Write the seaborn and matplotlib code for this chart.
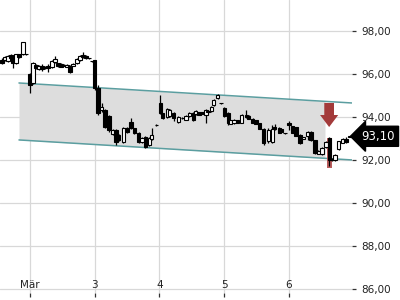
import matplotlib
matplotlib.use("Agg")
import matplotlib.pyplot as plt
import matplotlib.transforms as mtransforms
from matplotlib.patches import Polygon, Rectangle
import seaborn as sns
import pandas as pd
import numpy as np

# ---- data (time in trading days, 0 = 2 Mar) ----
t = [-0.432, -0.386, -0.340, -0.293, -0.263, -0.216, -0.170, -0.108, -0.062,
     0.000, 0.046, 0.093, 0.139, 0.185, 0.232, 0.278, 0.340, 0.386, 0.432,
     0.479, 0.525, 0.571, 0.618, 0.664, 0.726, 0.772, 0.819, 0.865, 0.911, 0.958,
     1.00, 1.05, 1.11, 1.16, 1.22, 1.28, 1.33, 1.37, 1.44, 1.50, 1.56, 1.61,
     1.68, 1.73, 1.78, 1.84, 1.88, 1.95,
     2.01, 2.05, 2.12, 2.16, 2.22, 2.29, 2.35, 2.41, 2.46, 2.52, 2.56, 2.61,
     2.66, 2.72, 2.75, 2.80, 2.84, 2.90, 2.95,
     3.00, 3.06, 3.10, 3.15, 3.21, 3.27, 3.34, 3.38, 3.44, 3.49, 3.55, 3.61,
     3.68, 3.74, 3.78, 3.85, 3.89, 3.94,
     4.00, 4.05, 4.11, 4.17, 4.22, 4.29, 4.34, 4.40, 4.45, 4.51, 4.57, 4.62,
     4.66, 4.71, 4.77, 4.83, 4.88, 4.93]
open_ = [96.65, 96.65, 96.60, 96.88, 96.84, 96.51, 96.93, 96.93, 96.93,
         96.00, 95.58, 96.42, 96.23, 96.37, 96.33, 96.37, 96.33, 96.56, 96.51,
         96.47, 96.42, 96.33, 96.37, 96.37, 96.51, 96.65, 96.88, 96.84, 96.74, 96.60,
         96.65, 95.35, 94.33, 94.33, 94.05, 93.21, 93.40, 93.16, 92.84, 93.49, 93.77, 93.49,
         93.26, 92.84, 93.07, 92.70, 92.98, 93.63,
         94.65, 94.19, 94.00, 94.05, 94.19, 93.77, 93.95, 93.86, 94.05, 94.19, 94.14, 94.23,
         94.23, 94.09, 94.28, 94.28, 94.56, 94.88, 94.65,
         94.42, 94.19, 93.67, 93.72, 93.86, 93.72, 94.09, 94.05, 93.91, 93.86, 93.72, 93.44,
         92.88, 92.84, 93.53, 93.49, 93.44, 93.26,
         93.72, 93.58, 93.53, 93.16, 92.98, 93.12, 93.30, 92.93, 92.28, 92.28, 92.60, 93.02,
         92.05, 92.00, 92.51, 92.79, 92.98, 93.08]
close = [96.51, 96.79, 96.84, 96.74, 96.51, 96.93, 96.79, 97.49, 96.92,
         95.49, 96.51, 96.28, 96.37, 96.23, 96.28, 96.28, 96.60, 96.70, 96.37,
         96.33, 96.37, 96.42, 96.09, 96.47, 96.70, 96.84, 96.79, 96.74, 96.72, 96.58,
         95.35, 94.19, 94.47, 93.53, 93.40, 93.40, 92.84, 92.93, 93.49, 93.30, 93.49, 93.26,
         92.84, 93.02, 92.60, 93.02, 93.16, 93.61,
         94.19, 93.95, 94.37, 94.33, 93.95, 94.00, 93.93, 94.05, 94.19, 93.86, 94.28, 94.09,
         94.14, 94.33, 94.23, 94.47, 94.79, 95.02, 94.63,
         94.05, 93.72, 93.86, 93.86, 93.72, 94.09, 94.00, 93.91, 93.72, 93.67, 93.44, 92.79,
         93.40, 93.44, 93.44, 93.26, 93.30, 93.24,
         93.63, 93.26, 93.12, 92.79, 93.07, 93.30, 92.93, 92.33, 92.42, 92.56, 92.84, 92.00,
         92.00, 92.23, 92.88, 92.98, 92.84, 93.10]
high = [96.74, 96.84, 96.88, 96.93, 96.88, 96.93, 96.95, 97.50, 96.95,
        96.05, 96.56, 96.47, 96.40, 96.45, 96.37, 96.47, 96.65, 96.84, 96.53,
        96.50, 96.45, 96.44, 96.42, 96.50, 96.74, 96.88, 97.02, 96.88, 96.76, 96.62,
        96.65, 95.49, 94.65, 94.37, 94.09, 93.44, 93.44, 93.20, 93.53, 93.53, 93.95, 93.50,
        93.30, 93.05, 93.12, 93.05, 93.49, 93.65,
        95.02, 94.20, 94.40, 94.36, 94.23, 94.05, 94.00, 94.08, 94.25, 94.23, 94.30, 94.25,
        94.25, 94.35, 94.30, 94.50, 94.85, 95.07, 94.66,
        94.47, 94.23, 93.88, 93.91, 93.88, 94.12, 94.33, 94.07, 93.93, 93.88, 93.74, 93.49,
        93.49, 93.63, 93.67, 93.52, 93.46, 93.27,
        93.81, 93.60, 93.55, 93.20, 93.09, 93.35, 93.35, 92.95, 92.44, 92.60, 92.88, 93.07,
        92.10, 92.28, 92.90, 93.00, 93.07, 93.12]
low = [96.47, 96.60, 96.56, 96.65, 96.28, 96.47, 96.76, 96.88, 96.90,
       95.12, 95.53, 96.23, 96.20, 96.15, 96.23, 96.09, 96.28, 96.51, 96.33,
       96.30, 96.35, 96.30, 96.05, 96.35, 96.47, 96.60, 96.74, 96.70, 96.70, 96.56,
       95.26, 94.09, 94.23, 93.49, 93.30, 93.16, 92.70, 92.90, 92.79, 93.26, 93.44, 93.20,
       92.80, 92.80, 92.56, 92.65, 92.93, 93.59,
       94.14, 93.90, 93.95, 94.00, 93.81, 93.72, 93.90, 93.84, 94.00, 93.80, 94.10, 94.07,
       94.12, 93.72, 94.20, 94.25, 94.50, 94.84, 94.61,
       94.00, 93.63, 93.65, 93.67, 93.70, 93.70, 93.95, 93.89, 93.70, 93.65, 93.42, 92.70,
       92.79, 92.79, 93.40, 93.24, 93.28, 93.22,
       93.40, 93.24, 93.10, 92.75, 92.96, 92.93, 92.90, 92.28, 92.26, 92.23, 92.56, 91.72,
       91.95, 91.95, 92.47, 92.77, 92.79, 93.06]

day_ticks = [0, 1, 2, 3, 4]
day_labels = ["Mär", "3", "4", "5", "6"]
price_ticks = [86, 88, 90, 92, 94, 96, 98]
last_price = 93.10

# trend channel
chan_t = [-0.17, 4.97]
chan_upper = [95.58, 94.65]
chan_lower = [92.93, 92.00]
chan_fill_end = 4.556

# signal marker (sell arrow + highlighted candle)
sig_t = 4.62
sig_arrow_top, sig_arrow_mid, sig_arrow_bottom = 94.65, 94.09, 93.53
sig_band_top, sig_band_bottom = 93.02, 91.63

df = pd.DataFrame({"t": t, "open": open_, "close": close, "high": high, "low": low})

sns.set_style("white")
plt.rcParams["font.family"] = ["DejaVu Sans"]

fig = plt.figure(figsize=(4, 3), dpi=100)
ax = fig.add_axes([0, 7 / 300, 352 / 400, 293 / 300])

ax.set_xlim(-0.463, 4.973)
ax.set_ylim(85.81, 99.44)

# grid
ax.set_xticks(day_ticks)
ax.set_xticklabels(day_labels)
ax.set_yticks(price_ticks)
ax.set_yticklabels([f"{p:.2f}".replace(".", ",") for p in price_ticks])
ax.grid(True, color="#d8d8d8", linewidth=0.9)
ax.set_axisbelow(True)
for s in ax.spines.values():
    s.set_visible(False)

ax.yaxis.tick_right()
ax.tick_params(axis="y", which="both", right=True, left=False, length=3, width=0.9,
               color="#333333", labelsize=7.5, labelcolor="#222222", pad=3.5)
ax.tick_params(axis="x", bottom=True, length=3, width=0.9, color="#333333",
               labelsize=7.5, labelcolor="#222222", pad=-12)

# channel
ax.fill_between([chan_t[0], chan_fill_end],
                np.interp([chan_t[0], chan_fill_end], chan_t, chan_upper),
                np.interp([chan_t[0], chan_fill_end], chan_t, chan_lower),
                color="#dddddd", zorder=1, linewidth=0)
cdf = pd.DataFrame({"t": chan_t * 2, "p": chan_upper + chan_lower,
                    "line": ["u", "u", "l", "l"]})
sns.lineplot(data=cdf, x="t", y="p", units="line", estimator=None,
             color="#5b9ea0", linewidth=1.1, ax=ax, zorder=2, legend=False)

# signal band behind candle
w = 0.05
ax.add_patch(Rectangle((sig_t - 0.04, sig_band_bottom), 0.08, sig_band_top - sig_band_bottom,
                       facecolor="#b34a4a", edgecolor="none", alpha=0.9, zorder=2.5))

# candles
up = df["close"] >= df["open"]
ax.vlines(df["t"], df["low"], df["high"], color="black", linewidth=0.9, zorder=3)
ax.bar(df["t"], (df["close"] - df["open"]).abs().clip(lower=0.025),
       bottom=np.minimum(df["open"], df["close"]), width=w,
       color=np.where(up, "white", "black"), edgecolor="black", linewidth=0.8, zorder=4)

# sell arrow
hw, sw = 0.14, 0.075
arrow = Polygon([(sig_t - sw, sig_arrow_top), (sig_t + sw, sig_arrow_top),
                 (sig_t + sw, sig_arrow_mid), (sig_t + hw, sig_arrow_mid),
                 (sig_t, sig_arrow_bottom), (sig_t - hw, sig_arrow_mid),
                 (sig_t - sw, sig_arrow_mid)], closed=True,
                facecolor="#a33a3a", edgecolor="none", zorder=5)
ax.add_patch(arrow)

# last price label
trans = mtransforms.blended_transform_factory(ax.transAxes, ax.transData)
ax.text(1.027, last_price, f"{last_price:.2f}".replace(".", ","), transform=trans,
        ha="left", va="center", color="white", fontsize=8.5,
        bbox=dict(boxstyle="larrow,pad=0.3", facecolor="black", edgecolor="black"),
        clip_on=False, zorder=6)

ax.set_xlabel("")
ax.set_ylabel("")
fig.savefig("out.png", dpi=100)
